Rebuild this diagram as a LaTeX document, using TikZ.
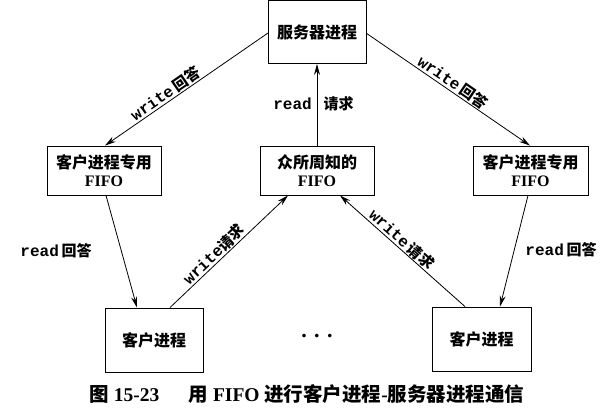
\documentclass[tikz,border=0pt]{standalone}
\usepackage{fontspec}
\setmainfont{Liberation Serif}
\setmonofont{Liberation Mono}
\newfontfamily\cjk{Noto Sans CJK SC}
\usetikzlibrary{arrows.meta}
\begin{document}
\begin{tikzpicture}[x=1pt,y=-1pt,
  box/.style={draw,line width=0.9pt,inner sep=0pt,align=center,font=\fontsize{16}{19}\selectfont\bfseries\cjk},
  conn/.style={line width=0.8pt,-{Stealth[length=11pt,width=6pt]}},
  lbl/.style={font=\fontsize{16}{18}\selectfont\bfseries,inner sep=1pt},
  cj/.style={font=\fontsize{15}{18}\selectfont\bfseries\cjk},
]
\useasboundingbox (0,0) rectangle (600,413);
\node[box,minimum width=98pt,minimum height=63pt] (srv) at (317,32) {服务器进程};
\node[box,minimum width=114pt,minimum height=49pt] (lf) at (104,170.5) {客户进程专用\\[-1pt]{\rmfamily\bfseries FIFO}};
\node[box,minimum width=114pt,minimum height=49pt] (mf) at (317,170.5) {众所周知的\\[-1pt]{\rmfamily\bfseries FIFO}};
\node[box,minimum width=115pt,minimum height=49pt] (rf) at (530.5,170.5) {客户进程专用\\[-1pt]{\rmfamily\bfseries FIFO}};
\node[box,minimum width=98pt,minimum height=64pt] (lc) at (154,340) {客户进程};
\node[box,minimum width=99pt,minimum height=64pt] (rc) at (481.5,339) {客户进程};
\node[font=\fontsize{22}{24}\selectfont\bfseries] (dots) at (317,336) {.\,\,.\,\,.};

\coordinate (srvL) at (268,33);
\coordinate (srvR) at (366,33);
\draw[conn] (srvL) -- node[lbl,sloped,above,pos=0.6] {\ttfamily write\,{\cjk\fontsize{15}{18}\selectfont 回答}} (lf.north -| 105,0);
\draw[conn] (srvR) -- node[lbl,sloped,above,pos=0.5] {\ttfamily write\,{\cjk\fontsize{15}{18}\selectfont 回答}} (rf.north -| 530,0);
\draw[conn] (mf.north) -- (srv.south);
\node[lbl,anchor=east] (rdq) at (313,104) {\ttfamily read};
\node[cj,anchor=west] (rdq2) at (320,104) {请求};
\draw[conn] (lf.south -| 106,0) -- (lc.north -| 137,0);
\draw[conn] (lc.north -| 170,0) -- node[lbl,sloped,above,pos=0.42] {\ttfamily write{\cjk\fontsize{15}{18}\selectfont 请求}} (mf.south -| 288,0);
\draw[conn] (rc.north -| 465,0) -- node[lbl,sloped,above,pos=0.55] {\ttfamily write\,{\cjk\fontsize{15}{18}\selectfont 请求}} (mf.south -| 340,0);
\draw[conn] (rf.south -| 528,0) -- (rc.north -| 500,0);
\node[lbl] (rda) at (56,251) {\ttfamily read\,{\cjk\fontsize{15}{18}\selectfont 回答}};
\node[lbl] (rdb) at (561,250) {\ttfamily read\,{\cjk\fontsize{15}{18}\selectfont 回答}};
\node[font=\fontsize{19.5}{21}\selectfont\bfseries] (cap) at (307,394) {{\cjk 图} 15-23\quad\enspace{\cjk 用} FIFO {\cjk 进行客户进程}-{\cjk 服务器进程通信}};
\end{tikzpicture}
\end{document}
